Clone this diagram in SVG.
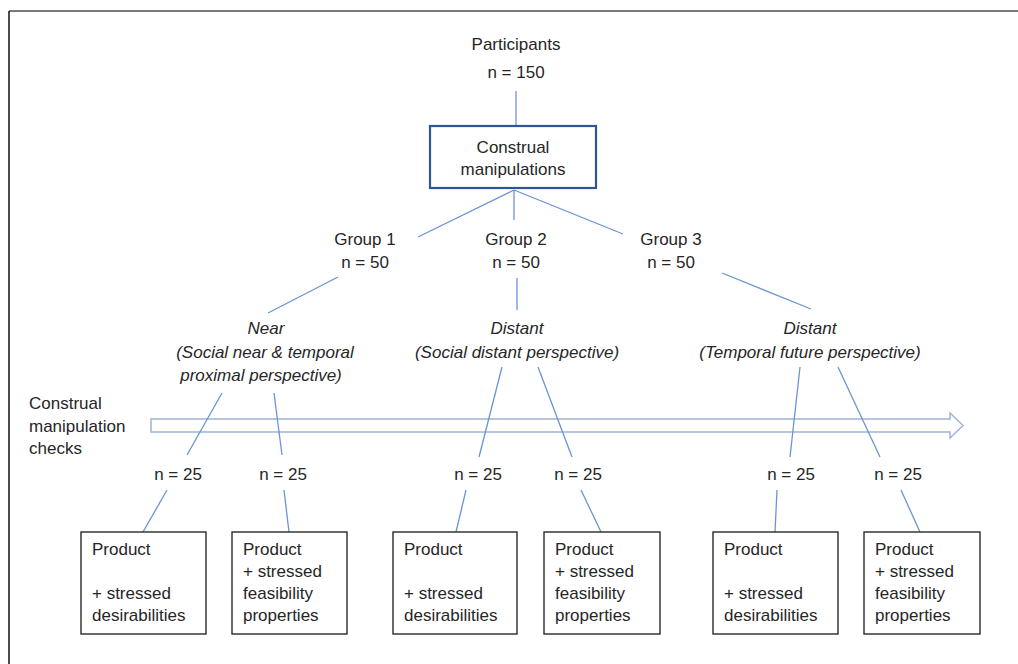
<svg xmlns="http://www.w3.org/2000/svg" width="1018" height="664" viewBox="0 0 1018 664">
<style>
text{font-family:"Liberation Sans",Arial,sans-serif;font-size:17px;fill:#262626}
.c{text-anchor:middle}
.i{font-style:italic}
.ln{stroke:#6A94D4;stroke-width:1.3;fill:none}
.bx{fill:#fff;stroke:#1a1a1a;stroke-width:1.3}
</style>
<rect x="0" y="0" width="1018" height="664" fill="#fff"/>
<g id="frame">
<line x1="9" y1="11" x2="1018" y2="11" stroke="#7a7a7a" stroke-width="2"/>
<line x1="9" y1="11" x2="9" y2="664" stroke="#111" stroke-width="1.5"/>
</g>
<g id="checks-arrow">
<path d="M151,419 H950 V413 L963,425.5 L950,438 V432 H151 Z" fill="none" stroke="#9DB4D8" stroke-width="1.5"/>
</g>
<g id="connectors">
<line class="ln" x1="516" y1="91" x2="516" y2="126"/>
<line class="ln" x1="514" y1="190" x2="418" y2="237"/>
<line class="ln" x1="514" y1="190" x2="514" y2="220"/>
<line class="ln" x1="514" y1="190" x2="623" y2="234"/>
<line class="ln" x1="338" y1="277" x2="268" y2="313"/>
<line class="ln" x1="517" y1="278" x2="517" y2="310"/>
<line class="ln" x1="722" y1="273" x2="811" y2="309"/>
<line class="ln" x1="222" y1="393" x2="187" y2="455"/>
<line class="ln" x1="274" y1="393" x2="282" y2="455"/>
<line class="ln" x1="167" y1="490" x2="143" y2="532"/>
<line class="ln" x1="284" y1="490" x2="289" y2="532"/>
<line class="ln" x1="502" y1="367" x2="479" y2="457"/>
<line class="ln" x1="538" y1="367" x2="572" y2="457"/>
<line class="ln" x1="466" y1="490" x2="456" y2="532"/>
<line class="ln" x1="581" y1="490" x2="601" y2="532"/>
<line class="ln" x1="800" y1="367" x2="790" y2="457"/>
<line class="ln" x1="838" y1="367" x2="880" y2="457"/>
<line class="ln" x1="777" y1="490" x2="775" y2="532"/>
<line class="ln" x1="901" y1="490" x2="920" y2="532"/>
</g>
<g id="participants">
<text class="c" x="516" y="50">Participants</text>
<text class="c" x="516" y="78">n = 150</text>
</g>
<g id="construal">
<rect x="430" y="126" width="166" height="62" fill="#fff" stroke="#2F5597" stroke-width="2.2"/>
<text class="c" x="513" y="153">Construal</text>
<text class="c" x="513" y="175">manipulations</text>
</g>
<g id="group1">
<text class="c" x="365" y="245">Group 1</text>
<text class="c" x="365" y="268">n = 50</text>
</g>
<g id="group2">
<text class="c" x="516" y="245">Group 2</text>
<text class="c" x="516" y="268">n = 50</text>
</g>
<g id="group3">
<text class="c" x="671" y="245">Group 3</text>
<text class="c" x="671" y="268">n = 50</text>
</g>
<g id="near">
<text class="c i" x="266" y="334">Near</text>
<text class="c i" x="265" y="358">(Social near &amp; temporal</text>
<text class="c i" x="261" y="381">proximal perspective)</text>
</g>
<g id="distant-social">
<text class="c i" x="517" y="334">Distant</text>
<text class="c i" x="517" y="358">(Social distant perspective)</text>
</g>
<g id="distant-temporal">
<text class="c i" x="810" y="334">Distant</text>
<text class="c i" x="810" y="358">(Temporal future perspective)</text>
</g>
<g id="checks-label">
<text x="29" y="409">Construal</text>
<text x="29" y="432">manipulation</text>
<text x="29" y="454">checks</text>
</g>
<g id="n25-1"><text class="c" x="178" y="480">n = 25</text></g>
<g id="n25-2"><text class="c" x="283" y="480">n = 25</text></g>
<g id="n25-3"><text class="c" x="478" y="480">n = 25</text></g>
<g id="n25-4"><text class="c" x="578" y="480">n = 25</text></g>
<g id="n25-5"><text class="c" x="791" y="480">n = 25</text></g>
<g id="n25-6"><text class="c" x="898" y="480">n = 25</text></g>
<g id="box1">
<rect class="bx" x="81" y="532" width="125" height="102"/>
<text x="92" y="555">Product</text>
<text x="92" y="599">+ stressed</text>
<text x="92" y="621">desirabilities</text>
</g>
<g id="box2">
<rect class="bx" x="232" y="532" width="115" height="102"/>
<text x="243" y="555">Product</text>
<text x="243" y="577">+ stressed</text>
<text x="243" y="599">feasibility</text>
<text x="243" y="621">properties</text>
</g>
<g id="box3">
<rect class="bx" x="393" y="532" width="124" height="102"/>
<text x="404" y="555">Product</text>
<text x="404" y="599">+ stressed</text>
<text x="404" y="621">desirabilities</text>
</g>
<g id="box4">
<rect class="bx" x="544" y="532" width="116" height="102"/>
<text x="555" y="555">Product</text>
<text x="555" y="577">+ stressed</text>
<text x="555" y="599">feasibility</text>
<text x="555" y="621">properties</text>
</g>
<g id="box5">
<rect class="bx" x="713" y="532" width="125" height="102"/>
<text x="724" y="555">Product</text>
<text x="724" y="599">+ stressed</text>
<text x="724" y="621">desirabilities</text>
</g>
<g id="box6">
<rect class="bx" x="864" y="532" width="116" height="102"/>
<text x="875" y="555">Product</text>
<text x="875" y="577">+ stressed</text>
<text x="875" y="599">feasibility</text>
<text x="875" y="621">properties</text>
</g>
</svg>
